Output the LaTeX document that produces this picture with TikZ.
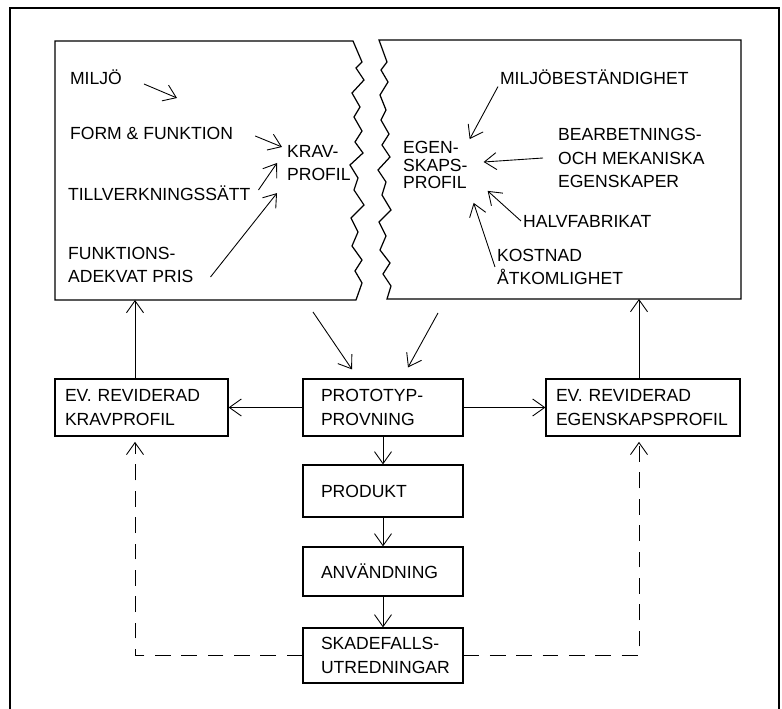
\documentclass[tikz,border=0pt]{standalone}
\usepackage{fontspec}
\setmainfont{Liberation Sans}
\usetikzlibrary{arrows.meta}

\begin{document}
\begin{tikzpicture}[x=0.02cm, y=-0.02cm,
    lbl/.style={font=\fontsize{10}{13.5}\selectfont, align=left, inner sep=1pt, anchor=west},
    box/.style={draw, line width=0.7pt, font=\fontsize{10}{13.5}\selectfont, align=left, inner xsep=0.36cm, inner ysep=3pt, minimum height=1.14cm},
    arr/.style={-{Straight Barb[length=2.4mm, width=3.4mm]}, line width=0.5pt},
    dasharr/.style={arr, dash pattern=on 9pt off 6pt}
]
\useasboundingbox (0,0) rectangle (782,709);

% frame
\draw[line width=0.6pt] (10,709) -- (10,8) -- (779,8) -- (779,709);

% the two torn panels
\draw[line width=0.7pt] (55,41) -- (353,41) -- (362,62) -- (356,68) -- (364,80) -- (352,93) -- (360,107) -- (354,117) -- (362,131) -- (355,142) -- (363,153) -- (350,165) -- (358,178) -- (354,190) -- (364,205) -- (351,218) -- (358,232) -- (352,246) -- (362,260) -- (355,271) -- (362,283) -- (356,300) -- (55,300) -- cycle;
\draw[line width=0.7pt] (741,40) -- (379,40) -- (387,62) -- (381,70) -- (388,82) -- (380,95) -- (386,110) -- (381,120) -- (389,134) -- (382,145) -- (390,157) -- (378,170) -- (386,182) -- (382,195) -- (391,210) -- (379,222) -- (386,236) -- (380,250) -- (390,263) -- (383,274) -- (391,286) -- (387,299) -- (741,299) -- cycle;

% left panel
\node[lbl] (miljo) at (68,77) {MILJÖ};
\node[lbl] (form) at (68,133) {FORM \& FUNKTION};
\node[lbl] (krav) at (285,163) {KRAV-\\PROFIL};
\node[lbl] (till) at (66,193) {TILLVERKNINGSSÄTT};
\node[lbl] (pris) at (66,265) {FUNKTIONS-\\ADEKVAT PRIS};
\coordinate (miljotip) at (177,98);

\draw[arr] ([shift={(20,7)}]miljo.east) -- (miljotip);
\draw[arr] ([shift={(20,3)}]form.east) -- ([shift={(-3,-16)}]krav.west);
\draw[arr] ([shift={(6,-3)}]till.east) -- ([shift={(-8,0)}]krav.west);
\draw[arr] ([shift={(15,12)}]pris.east) -- ([shift={(-8,10)}]krav.south west);

% right panel
\node[lbl] (milbest) at (498,77) {MILJÖBESTÄNDIGHET};
\node[lbl, font=\fontsize{10}{10}\selectfont] (egen) at (401,165) {EGEN-\\SKAPS-\\PROFIL};
\node[lbl] (bearb) at (556,158) {BEARBETNINGS-\\OCH MEKANISKA\\EGENSKAPER};
\node[lbl] (halv) at (521,221) {HALVFABRIKAT};
\node[lbl] (kost) at (495,267) {KOSTNAD\\ÅTKOMLIGHET};

\draw[arr] (milbest.south west) -- (egen.north east);
\draw[arr] ([shift={(-13,0)}]bearb.west) -- ([shift={(14,-3)}]egen.east);
\draw[arr] (halv.west) -- ([shift={(18,0)}]egen.south east);
\draw[arr] (kost.west) -- ([shift={(4,12)}]egen.south east);

% flow boxes
\node[box, inner xsep=0.2cm, text width=3.06cm] (kravrev) at (141.5,407.5) {EV. REVIDERAD\\KRAVPROFIL};
\node[box, text width=2.48cm] (proto) at (383,407.5) {PROTOTYP-\\PROVNING};
\node[box, inner xsep=0.2cm, text width=3.48cm] (egenrev) at (643,407.5) {EV. REVIDERAD\\EGENSKAPSPROFIL};
\node[box, text width=2.48cm, minimum height=1.04cm] (produkt) at (383,491) {PRODUKT};
\node[box, text width=2.48cm, minimum height=0.98cm] (anvand) at (383,571.5) {ANVÄNDNING};
\node[box, text width=2.48cm, minimum height=1.1cm] (skade) at (383,655.5) {SKADEFALLS-\\UTREDNINGAR};

\coordinate (lbot) at (135,300);
\coordinate (rbot) at (639,299);
\coordinate (lfoot) at (313,312);
\coordinate (rfoot) at (438,313);

\draw[arr] (lfoot) -- ([shift={(-31,-9)}]proto.north);
\draw[arr] (rfoot) -- ([shift={(25,-11)}]proto.north);
\draw[arr] (proto.west) -- (kravrev.east);
\draw[arr] (proto.east) -- (egenrev.west);
\draw[arr] (lbot |- kravrev.north) -- (lbot);
\draw[arr] (rbot |- egenrev.north) -- (rbot);
\draw[arr] (proto.south) -- (produkt.north);
\draw[arr] (produkt.south) -- (anvand.north);
\draw[arr] (anvand.south) -- (skade.north);

\draw[dasharr, shorten >=3pt] (skade.west) -| (lbot |- kravrev.south);
\draw[dasharr, shorten >=3pt] (skade.east) -| (rbot |- egenrev.south);
\end{tikzpicture}
\end{document}
